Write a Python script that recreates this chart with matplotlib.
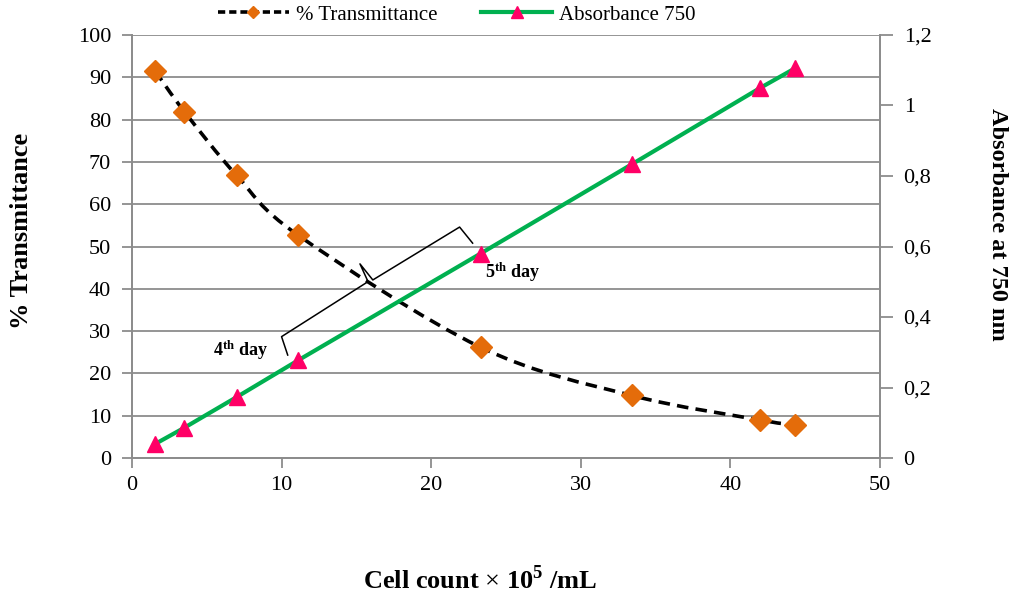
import numpy as np
import matplotlib
matplotlib.use('Agg')
import matplotlib.pyplot as plt
from matplotlib.path import Path
from matplotlib.patches import PathPatch
from matplotlib.lines import Line2D

plt.rcParams['font.family'] = ['Liberation Serif', 'DejaVu Serif']
plt.rcParams['mathtext.fontset'] = 'custom'
plt.rcParams['mathtext.rm'] = 'Liberation Serif'
plt.rcParams['mathtext.bf'] = 'Liberation Serif:bold'

# data
cell_count = [1.55, 3.5, 7.0, 11.1, 23.3, 33.4, 42.0, 44.3]
transmittance = [91.5, 81.9, 66.8, 52.7, 26.2, 14.8, 9.0, 7.8]
absorbance = [0.04, 0.086, 0.173, 0.277, 0.58, 0.833, 1.05, 1.105]

x_ticks = [0, 10, 20, 30, 40, 50]
left_ticks = [0, 10, 20, 30, 40, 50, 60, 70, 80, 90, 100]
right_ticks = [0, 0.2, 0.4, 0.6, 0.8, 1.0, 1.2]
right_labels = ['0', '0,2', '0,4', '0,6', '0,8', '1', '1,2']

# bracket annotation (data coords on left axis)
bracket_x = [10.41, 10.0, 15.78, 15.24, 16.1, 21.9, 22.77]
bracket_y = [24.35, 28.7, 41.7, 45.9, 42.1, 54.6, 50.8]

orange = '#E46C0A'
pink = '#FF0066'
green = '#00B050'
grid_col = '#8C8C8C'

fig = plt.figure(figsize=(10.15, 5.98), dpi=100)
ax = fig.add_axes([0.130, 0.234, 0.737, 0.7075])
ax2 = ax.twinx()

# smoothed dashed curve (excel style bezier through the points)
px = np.array(cell_count)
py = np.array(transmittance)
n = len(px)
verts = [(px[0], py[0])]
codes = [Path.MOVETO]
for i in range(n - 1):
    p0 = np.array([px[max(i - 1, 0)], py[max(i - 1, 0)]])
    p1 = np.array([px[i], py[i]])
    p2 = np.array([px[i + 1], py[i + 1]])
    p3 = np.array([px[min(i + 2, n - 1)], py[min(i + 2, n - 1)]])
    c1 = p1 + (p2 - p0) / 6
    c2 = p2 - (p3 - p1) / 6
    verts += [tuple(c1), tuple(c2), tuple(p2)]
    codes += [Path.CURVE4] * 3
patch = PathPatch(Path(verts, codes), facecolor='none', edgecolor='black',
                  linewidth=2.6, linestyle=(0, (3.2, 2.0)), zorder=3)
ax.add_patch(patch)
ax.plot(cell_count, transmittance, linestyle='none', marker='D', markersize=11,
        color=orange, zorder=4)

ax2.plot(cell_count, absorbance, color=green, linewidth=3, marker='^',
         markersize=11, markerfacecolor=pink, markeredgecolor=pink, zorder=4)

ax.plot(bracket_x, bracket_y, color='black', linewidth=1.1, zorder=2)
ax.text(9.1, 25.5, r'$\mathbf{4^{th}}$ day', fontsize=13, fontweight='bold',
        ha='right', va='center')
ax.text(23.6, 43.8, r'$\mathbf{5^{th}}$ day', fontsize=13, fontweight='bold',
        ha='left', va='center')

ax.set_xlim(0, 50)
ax.set_ylim(0, 100)
ax2.set_ylim(0, 1.2)
ax.set_xticks(x_ticks)
ax.set_yticks(left_ticks)
ax2.set_yticks(right_ticks)
ax2.set_yticklabels(right_labels)
ax.yaxis.grid(True, color=grid_col, linewidth=1.3)
ax.set_axisbelow(True)

for a in (ax, ax2):
    a.spines['top'].set_visible(False)
    for s in ('left', 'right', 'bottom'):
        a.spines[s].set_color(grid_col)
        a.spines[s].set_linewidth(1.3)
    a.tick_params(colors=grid_col, labelcolor='black', labelsize=16,
                  length=7, width=1.3)
ax.tick_params(axis='y', pad=8)
ax.tick_params(axis='x', pad=6)
ax2.tick_params(axis='y', length=9, pad=8)

ax.set_xlabel(r'Cell count $\times$ 10$^{\mathbf{5}}$ /mL', fontsize=19,
              fontweight='bold', va='center')
ax.xaxis.set_label_coords(0.465, -0.288)
ax.set_ylabel('% Transmittance', fontsize=19, fontweight='bold', va='center')
ax.yaxis.set_label_coords(-0.147, 0.537)
ax2.set_ylabel('Absorbance at 750 nm', fontsize=17.5, fontweight='bold',
               rotation=-90, va='center')
ax2.yaxis.set_label_coords(1.157, 0.553)

handles = [
    Line2D([], [], color='black', linewidth=2.6, linestyle=(0, (2.0, 1.1)),
           marker='D', markersize=6, markerfacecolor=orange, markeredgecolor=orange),
    Line2D([], [], color=green, linewidth=3, marker='^', markersize=9,
           markerfacecolor=pink, markeredgecolor=pink),
]
fig.legend(handles, ['% Transmittance', 'Absorbance 750'], loc='center',
           bbox_to_anchor=(0.450, 0.975), ncol=2, frameon=False, fontsize=15,
           handlelength=3.4, handletextpad=0.35, columnspacing=2.1)

fig.savefig('out.png', dpi=100)
